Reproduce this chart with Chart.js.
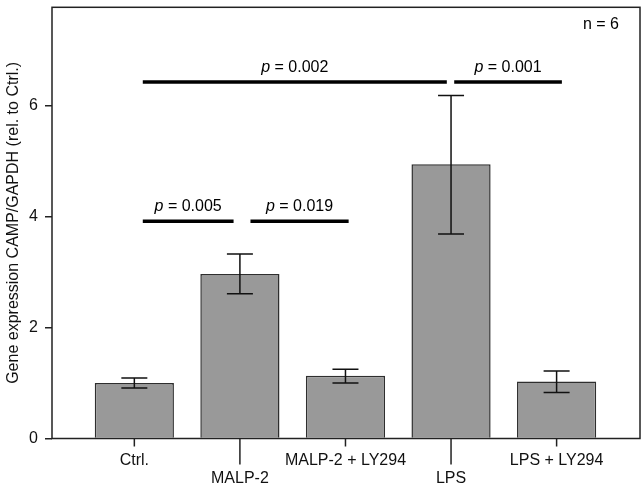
<!DOCTYPE html>
<html>
<head>
<meta charset="utf-8">
<script src="https://cdn.jsdelivr.net/npm/chart.js@4.4.1/dist/chart.umd.min.js"></script>
<style>
  html, body { margin: 0; padding: 0; background: #fff; }
  #wrap { width: 644px; height: 488px; }
</style>
</head>
<body>
<div id="wrap"><canvas id="campChart"></canvas></div>
<script>
// DATA
const groups = ["Ctrl.", "MALP-2", "MALP-2 + LY294", "LPS", "LPS + LY294"];
const meanValues = [1.0, 2.97, 1.13, 4.95, 1.03];
const errLow = [0.91, 2.61, 1.0, 3.69, 0.83];
const errHigh = [1.09, 3.33, 1.25, 6.19, 1.22];
const yTicks = [0, 2, 4, 6];

// significance bars: from / to (group index units), level, p value
const sigFrom = [0.08, 1.10, 0.08, 3.03];
const sigTo = [0.94, 2.03, 2.96, 4.05];
const sigLevel = [3.92, 3.92, 6.43, 6.43];
const sigText = ["0.005", "0.019", "0.002", "0.001"];

const FONT = "'Liberation Sans', Arial, sans-serif";
const FS = 16;

/* ================= ERROR BARS, TICKS, FRAME ================= */
const extras = {
  id: "extras",
  afterDatasetsDraw(chart) {
    const ctx = chart.ctx;
    const x = chart.scales.x, y = chart.scales.y;
    const a = chart.chartArea;
    ctx.save();

    // error bars
    ctx.strokeStyle = "#111";
    ctx.lineWidth = 1.5;
    chart.getDatasetMeta(0).data.forEach((bar, i) => {
      const lo = y.getPixelForValue(errLow[i]);
      const hi = y.getPixelForValue(errHigh[i]);
      ctx.beginPath();
      ctx.moveTo(bar.x, lo); ctx.lineTo(bar.x, hi);
      ctx.moveTo(bar.x - 13, lo); ctx.lineTo(bar.x + 13, lo);
      ctx.moveTo(bar.x - 13, hi); ctx.lineTo(bar.x + 13, hi);
      ctx.stroke();
    });

    // frame
    ctx.strokeStyle = "#222";
    ctx.lineWidth = 1.5;
    ctx.strokeRect(a.left, a.top, a.right - a.left, a.bottom - a.top);

    // x ticks (staggered)
    groups.forEach((g, i) => {
      const px = x.getPixelForValue(i);
      ctx.beginPath();
      ctx.moveTo(px, a.bottom);
      ctx.lineTo(px, a.bottom + (i % 2 ? 26 : 8));
      ctx.stroke();
    });

    // significance bars
    ctx.strokeStyle = "#000";
    ctx.lineWidth = 3.5;
    ctx.fillStyle = "#000";
    ctx.textBaseline = "middle";
    sigFrom.forEach((f, i) => {
      const x1 = x.getPixelForValue(f), x2 = x.getPixelForValue(sigTo[i]);
      const ly = y.getPixelForValue(sigLevel[i]);
      ctx.beginPath();
      ctx.moveTo(x1, ly); ctx.lineTo(x2, ly);
      ctx.stroke();
      const italic = "italic " + FS + "px " + FONT, normal = FS + "px " + FONT;
      const rest = " = " + sigText[i];
      ctx.font = italic;
      const w1 = ctx.measureText("p").width;
      ctx.font = normal;
      const w2 = ctx.measureText(rest).width;
      const sx = (x1 + x2) / 2 - (w1 + w2) / 2;
      ctx.textAlign = "left";
      ctx.font = italic;
      ctx.fillText("p", sx, ly - 15);
      ctx.font = normal;
      ctx.fillText(rest, sx + w1, ly - 15);
    });

    // n = 6
    ctx.font = FS + "px " + FONT;
    ctx.textAlign = "right";
    ctx.fillText("n = 6", a.right - 21, a.top + 17);
    ctx.restore();
  }
};

new Chart(document.getElementById("campChart"), {
  type: "bar",
  data: {
    datasets: [{
      data: meanValues.map((v, i) => ({ x: i, y: v })),
      backgroundColor: "#999999",
      borderColor: "#2e2e2e",
      borderWidth: 1.5,
      categoryPercentage: 1,
      barPercentage: 0.75
    }]
  },
  options: {
    responsive: true,
    maintainAspectRatio: false,
    animation: false,
    layout: { padding: { top: 0, right: 4, left: 0, bottom: 0 } },
    plugins: { legend: { display: false }, tooltip: { enabled: false } },
    scales: {
      x: {
        type: "linear",
        offset: false,
        min: -0.78,
        max: 4.79,
        afterBuildTicks: s => { s.ticks = groups.map((g, i) => ({ value: i })); },
        afterFit: s => { s.height = 49.5; },
        grid: { display: false, drawTicks: false },
        border: { display: false },
        ticks: {
          padding: 13.5,
          maxRotation: 0,
          autoSkip: false,
          color: "#111",
          font: { family: FONT, size: FS, lineHeight: 1.1 },
          callback: (v, i) => (i % 2 ? ["", groups[i]] : groups[i])
        }
      },
      y: {
        min: 0,
        max: 7.78,
        afterBuildTicks: s => { s.ticks = yTicks.map(v => ({ value: v })); },
        afterFit: s => { s.width = 52; s.paddingTop = 7.3; s.paddingBottom = 0; },
        grid: { drawOnChartArea: false, tickLength: 7, color: "#222", lineWidth: 1.5 },
        border: { display: false },
        ticks: {
          padding: 7,
          color: "#111",
          font: { family: FONT, size: FS }
        },
        title: {
          display: true,
          text: "Gene expression CAMP/GAPDH (rel. to Ctrl.)",
          color: "#111",
          font: { family: FONT, size: FS }
        }
      }
    }
  },
  plugins: [extras]
});
</script>
</body>
</html>
